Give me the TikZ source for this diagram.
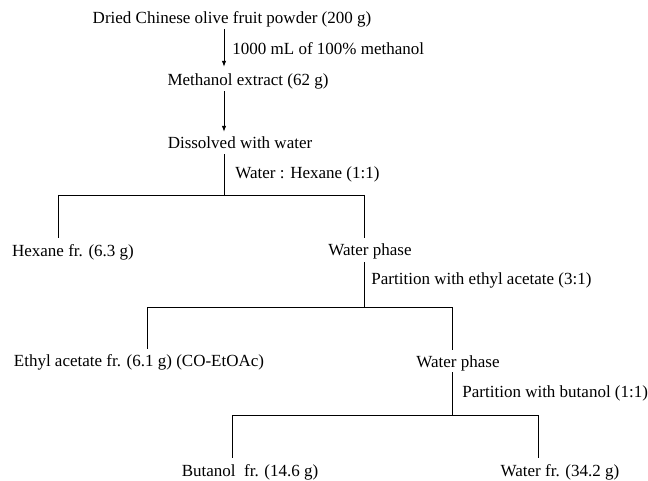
\documentclass[tikz,border=0pt]{standalone}
\usepackage{fontspec}
\setmainfont{Liberation Serif}
\usetikzlibrary{arrows.meta, positioning}

\begin{document}
\begin{tikzpicture}[
        x=1pt, y=-1pt,
        font=\fontsize{17}{20}\selectfont,
        stage/.style={inner sep=1pt, text height=12pt, text depth=4pt},
        cond/.style={anchor=west, inner sep=0pt, xshift=8pt, text height=12pt, text depth=4pt},
        link/.style={line width=0.9pt},
        flow/.style={link, -{Latex[length=6pt, width=4.5pt]}, shorten >=6pt}
    ]
        \useasboundingbox (0,0) rectangle (648,481);

        % Stages of the extraction
        \node[stage] (powder) at (232,20) {Dried Chinese olive fruit powder (200 g)};
        \node[stage] (meoh) at (248,82) {Methanol extract (62 g)};
        \node[stage] (dissolved) at (240,145) {Dissolved with water};
        \node[stage] (hexane) at (73,252) {Hexane fr. (6.3 g)};
        \node[stage] (water1) at (370,251) {Water phase};
        \node[stage] (etoac) at (139,362) {Ethyl acetate fr. (6.1 g) (CO-EtOAc)};
        \node[stage] (water2) at (458,363) {Water phase};
        \node[stage] (butanol) at (250,472) {Butanol\ \ fr. (14.6 g)};
        \node[stage] (waterfr) at (560,472) {Water fr. (34.2 g)};

        % Stems and branch points
        \coordinate (s1) at (224,0);
        \coordinate (b1l) at (58,195);
        \coordinate (b1m) at (224,195);
        \coordinate (b1r) at (364,195);
        \coordinate (b2l) at (147,307);
        \coordinate (b2r) at (452,307);
        \coordinate (b3l) at (232,415);
        \coordinate (b3r) at (538,415);

        % Extraction
        \draw[flow] (powder.south -| s1) -- node[cond] (c1) {1000 mL of 100\% methanol} (meoh.north -| s1);
        \draw[flow, shorten >=4pt] (meoh.south -| s1) -- (dissolved.north -| s1);

        % Hexane partition
        \draw[link] (dissolved.south -| s1) -- node[cond, xshift=3pt] (c2) {Water : Hexane (1:1)} (b1m);
        \draw[link] (b1l) -- (b1r);
        \draw[link, shorten >=5pt] (b1l) -- (hexane.north -| b1l);
        \draw[link, shorten >=4pt] (b1r) -- (water1.north -| b1r);

        % Ethyl acetate partition
        \draw[link, shorten <=2pt] (water1.south -| b1r) -- node[cond, xshift=-1pt, yshift=3pt] (c3) {Partition with ethyl acetate (3:1)} (b1r |- b2r);
        \draw[link] (b2l) -- (b2r);
        \draw[link, shorten >=4pt] (b2l) -- (etoac.north -| b2l);
        \draw[link, shorten >=4pt] (b2r) -- (water2.north -| b2r);

        % Butanol partition
        \draw[link] (water2.south -| b2r) -- node[cond, xshift=2pt] (c4) {Partition with butanol (1:1)} (b2r |- b3r);
        \draw[link] (b3l) -- (b3r);
        \draw[link, shorten >=5pt] (b3l) -- (butanol.north -| b3l);
        \draw[link, shorten >=5pt] (b3r) -- (waterfr.north -| b3r);

    \end{tikzpicture}
\end{document}
